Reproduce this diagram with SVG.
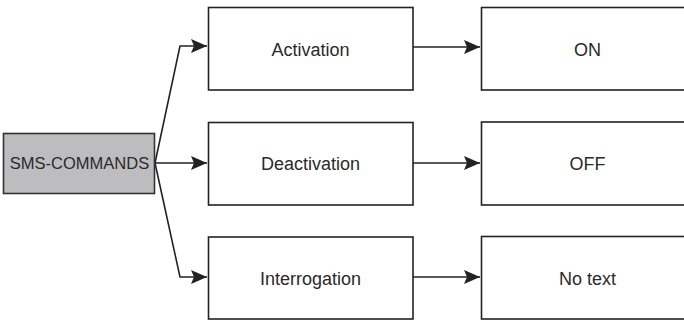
<svg xmlns="http://www.w3.org/2000/svg" width="684" height="320" viewBox="0 0 684 320">
<style>
.box{fill:#ffffff;stroke:#222222;stroke-width:1.6}
.root{fill:#bdbdc0;stroke:#333333;stroke-width:1.6}
.lbl{font-family:"Liberation Sans",Arial,sans-serif;font-size:18px;fill:#2a2a2a;text-anchor:middle}
.conn{fill:none;stroke:#222222;stroke-width:1.6}
</style>
<defs>
<marker id="ah" viewBox="0 0 16 14" refX="16" refY="7" markerWidth="16" markerHeight="14" markerUnits="userSpaceOnUse" orient="auto">
<path d="M0,0 L16,7 L0,14 L3,7 Z" fill="#222222"/>
</marker>
</defs>
<rect width="684" height="320" fill="#ffffff"/>
<g id="connectors">
<polyline class="conn" points="155,163 180,46 207,46" marker-end="url(#ah)"/>
<line class="conn" x1="155" y1="163" x2="207" y2="163" marker-end="url(#ah)"/>
<polyline class="conn" points="155,163 180,277 207,277" marker-end="url(#ah)"/>
<line class="conn" x1="413" y1="47" x2="480" y2="47" marker-end="url(#ah)"/>
<line class="conn" x1="413" y1="163" x2="480" y2="163" marker-end="url(#ah)"/>
<line class="conn" x1="413" y1="277" x2="480" y2="277" marker-end="url(#ah)"/>
</g>
<g id="sms-commands">
<rect class="root" x="3.5" y="133.5" width="151" height="60"/>
<text class="lbl" x="79.5" y="169" style="font-size:16.5px">SMS-COMMANDS</text>
</g>
<g id="activation">
<rect class="box" x="208.5" y="7.5" width="204.5" height="82.5"/>
<text class="lbl" x="310.5" y="55.5">Activation</text>
</g>
<g id="deactivation">
<rect class="box" x="208.5" y="122.5" width="204.5" height="82.5"/>
<text class="lbl" x="310.5" y="170">Deactivation</text>
</g>
<g id="interrogation">
<rect class="box" x="208.5" y="237" width="204.5" height="82"/>
<text class="lbl" x="310.5" y="284.5">Interrogation</text>
</g>
<g id="on">
<rect class="box" x="481.5" y="7.5" width="215" height="82.5"/>
<text class="lbl" x="587.5" y="55.5">ON</text>
</g>
<g id="off">
<rect class="box" x="481.5" y="122" width="215" height="83"/>
<text class="lbl" x="587.5" y="170">OFF</text>
</g>
<g id="no-text">
<rect class="box" x="481.5" y="236.5" width="215" height="82.5"/>
<text class="lbl" x="587.5" y="284.5">No text</text>
</g>
</svg>
